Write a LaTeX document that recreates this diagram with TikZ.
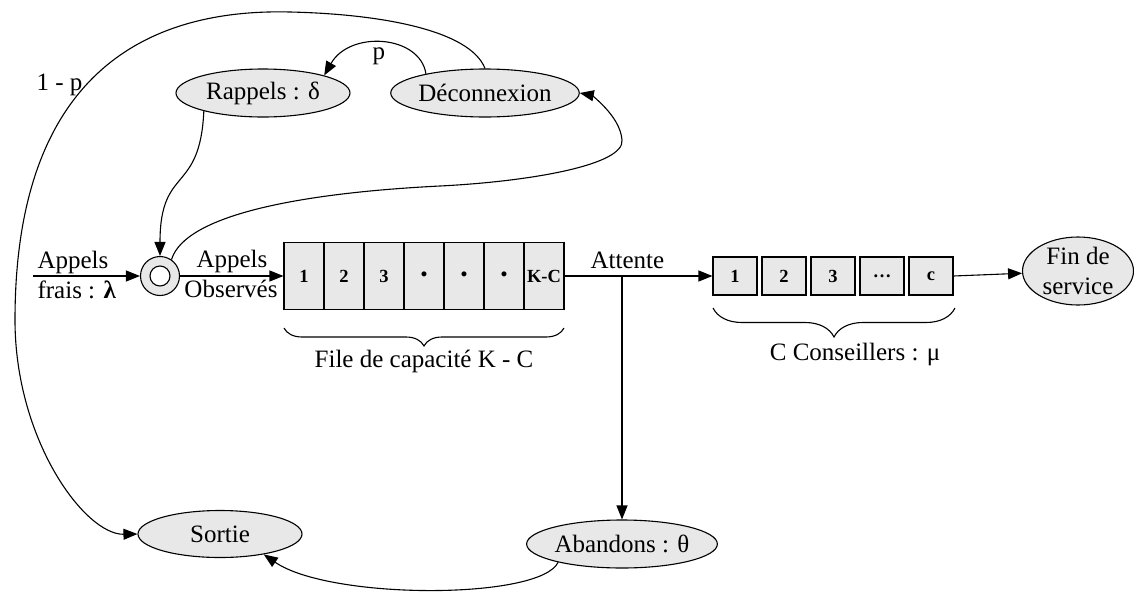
\documentclass[tikz,border=0pt]{standalone}
\usepackage{fontspec}
\setmainfont{Liberation Serif}
\usetikzlibrary{arrows.meta,decorations.pathreplacing,shapes.geometric}
\definecolor{cellgray}{RGB}{232,232,232}

\begin{document}
\begin{tikzpicture}[x=1pt,y=-1pt,line width=1.1pt,
  >={Triangle[length=14pt,width=11pt]},
  etat/.style={ellipse,draw,fill=cellgray,inner sep=0pt,font=\fontsize{25}{30}\selectfont},
  lbl/.style={inner sep=0pt,font=\fontsize{25}{30}\selectfont},
  cell/.style={rectangle,draw,fill=cellgray,inner sep=0pt,minimum width=40pt,minimum height=67pt,font=\fontsize{18.5}{20}\selectfont\bfseries},
  serveur/.style={rectangle,draw,fill=cellgray,inner sep=0pt,minimum width=44pt,minimum height=38pt,font=\fontsize{18.5}{20}\selectfont\bfseries}]
\useasboundingbox (0,0) rectangle (1134,592);

% etats
\node[etat,minimum width=174pt,minimum height=48pt] (rappels) at (263,93) {Rappels : δ};
\node[etat,minimum width=154pt,minimum height=48pt] (deco) at (485,93) {Déconnexion};
\node[etat,minimum width=164pt,minimum height=47pt] (sortie) at (220,534) {Sortie};
\node[etat,minimum width=182pt,minimum height=48pt] (aband) at (622,544) {Abandons : θ};
\node[etat,minimum width=111pt,minimum height=68pt,align=center] (fin) at (1078,271) {Fin de\\service};

% point d'entree
\node[circle,draw,fill=cellgray,minimum size=39pt,inner sep=0pt] (entree) at (160,276) {};
\node[circle,draw,fill=white,minimum size=20pt,inner sep=0pt] (entreein) at (entree) {};

% file et conseillers
\foreach \t [count=\i] in {1,2,3,\textbullet,\textbullet,\textbullet,K-C}
  \node[cell] (q\i) at (264+40*\i,276) {\t};
\foreach \t [count=\i] in {1,2,3,\ldots,c}
  \node[serveur] (s\i) at (686+49*\i,276) {\t};

% textes
\node[lbl,anchor=base west] (appf1) at (37,268) {Appels};
\node[lbl,anchor=base west] (appf2) at (37,298) {frais : \textbf{λ}};
\node[lbl,anchor=base] (appo1) at (232,267) {Appels};
\node[lbl,anchor=base] (appo2) at (231,297) {Observés};
\node[lbl,anchor=base west] (attente) at (590,268) {Attente};
\node[lbl,anchor=base west] (unmoinsp) at (36,90) {1 - p};
\node[lbl,anchor=base west] (proba) at (372,59) {p};
\node[lbl,anchor=base] (filecap) at (424,367) {File de capacité K - C};
\node[lbl,anchor=base] (conseil) at (855,360) {C Conseillers : μ};

\draw [decorate,decoration={brace,mirror,amplitude=18pt}] (284,328) -- (564,328);
\draw [decorate,decoration={brace,mirror,amplitude=29pt}] (713,308) -- (955,308);

\coordinate (arr) at (33,276);
\coordinate (att) at (622,276);
\draw[->] (arr) -- (entree);
\draw[->] (entree) -- (q1);
\draw[->] (q7.east) -- (s1.west);
\draw[->] (att) -- (aband.north);
\draw[->] (s5.east) -- (fin);

\draw[->] (deco.162) .. controls (420,35) and (350,30) .. (rappels.16);
\draw[->] (deco.north) .. controls (470,30) and (380,14) .. (290,12) .. controls (130,8) and (15,90) .. (15,320) .. controls (15,440) and (85,535) .. (sortie.west);
\draw[->] (rappels.197) .. controls (200,195) and (160,165) .. (entree.north);
\draw[->] (entree.55) .. controls (185,215) and (300,193) .. (440,186) .. controls (530,181.5) and (625,165) .. (622,140) .. controls (620,115) and (590,95) .. (deco.east);
\draw[->] (aband.196) .. controls (540,600) and (330,600) .. (sortie.-25);
\end{tikzpicture}
\end{document}
